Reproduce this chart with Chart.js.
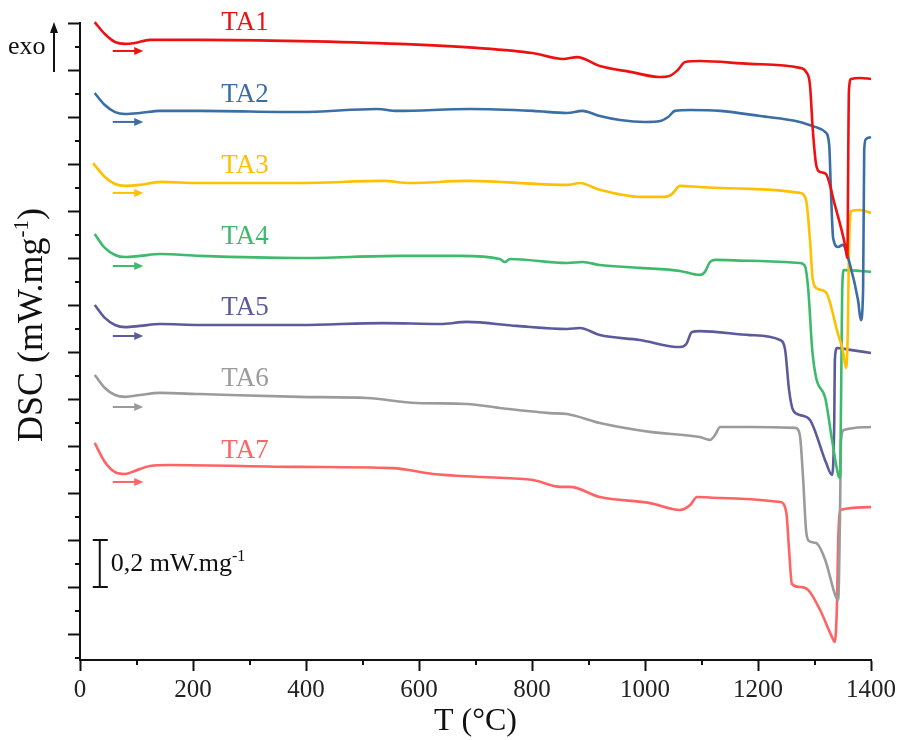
<!DOCTYPE html>
<html>
<head>
<meta charset="utf-8">
<script src="https://cdn.jsdelivr.net/npm/chart.js@4.4.0/dist/chart.umd.min.js"></script>
<style>
  html, body { margin: 0; padding: 0; background: #fff; }
  #wrap { width: 898px; height: 740px; }
</style>
</head>
<body>
<div id="wrap"><canvas id="dscChart" width="898" height="740"></canvas></div>
<script>
// DSC traces, temperature in °C, signal in mW/mg (offset curves, no absolute zero)
const seriesNames  = ['TA1', 'TA2', 'TA3', 'TA4', 'TA5', 'TA6', 'TA7'];
const seriesColors = ['#ee1111', '#3b6ea5', '#ffc000', '#3dba6c', '#5b5b9c', '#9b9b9b', '#ff6363'];

const ta1Temp = [26, 44, 62, 80, 97, 124, 212, 389, 566, 702, 801, 855, 880, 920, 974, 1027, 1044, 1058, 1071, 1097, 1186, 1274, 1285, 1292, 1297, 1303, 1310, 1320, 1336, 1354, 1358, 1361, 1365, 1381, 1400];
const ta1Dsc  = [2.604, 2.553, 2.519, 2.511, 2.515, 2.528, 2.528, 2.523, 2.511, 2.494, 2.472, 2.447, 2.455, 2.417, 2.392, 2.370, 2.375, 2.400, 2.434, 2.438, 2.426, 2.409, 2.392, 2.336, 2.145, 1.996, 1.966, 1.958, 1.826, 1.656, 1.600, 2.315, 2.362, 2.366, 2.362];

const ta2Temp = [26, 44, 62, 80, 106, 142, 212, 389, 526, 561, 690, 802, 862, 889, 920, 956, 1000, 1027, 1041, 1053, 1080, 1133, 1204, 1274, 1301, 1319, 1326, 1329, 1333, 1342, 1350, 1363, 1377, 1382, 1386, 1388, 1391, 1400];
const ta2Dsc  = [2.302, 2.251, 2.221, 2.213, 2.217, 2.226, 2.226, 2.221, 2.234, 2.226, 2.234, 2.226, 2.217, 2.226, 2.204, 2.187, 2.179, 2.183, 2.200, 2.226, 2.230, 2.226, 2.204, 2.179, 2.158, 2.136, 2.081, 1.890, 1.685, 1.647, 1.656, 1.570, 1.421, 1.336, 1.464, 2.060, 2.106, 2.115];

const ta3Temp = [23, 44, 62, 80, 106, 142, 212, 389, 536, 584, 685, 862, 885, 920, 991, 1035, 1048, 1062, 1097, 1186, 1274, 1285, 1292, 1297, 1306, 1320, 1342, 1350, 1356, 1359, 1361, 1365, 1381, 1400];
const ta3Dsc  = [2.004, 1.945, 1.915, 1.907, 1.911, 1.924, 1.919, 1.919, 1.928, 1.919, 1.928, 1.911, 1.919, 1.890, 1.860, 1.860, 1.873, 1.907, 1.902, 1.894, 1.877, 1.847, 1.677, 1.507, 1.468, 1.455, 1.273, 1.209, 1.132, 1.294, 1.634, 1.800, 1.804, 1.792];

const ta4Temp = [26, 44, 62, 80, 106, 142, 212, 389, 566, 673, 743, 752, 761, 862, 890, 920, 991, 1062, 1097, 1106, 1115, 1124, 1186, 1274, 1283, 1289, 1296, 1303, 1319, 1331, 1342, 1345, 1347, 1349, 1352, 1381, 1400];
const ta4Dsc  = [1.702, 1.643, 1.613, 1.604, 1.609, 1.617, 1.609, 1.600, 1.609, 1.609, 1.596, 1.583, 1.596, 1.579, 1.583, 1.570, 1.558, 1.545, 1.528, 1.541, 1.583, 1.592, 1.588, 1.579, 1.566, 1.464, 1.209, 1.089, 1.004, 0.826, 0.677, 0.664, 0.996, 1.464, 1.549, 1.545, 1.541];

const ta5Temp = [26, 44, 62, 80, 106, 142, 212, 389, 536, 637, 685, 773, 862, 885, 920, 991, 1062, 1073, 1083, 1097, 1186, 1239, 1248, 1255, 1262, 1274, 1292, 1320, 1331, 1335, 1336, 1340, 1363, 1400];
const ta5Dsc  = [1.400, 1.345, 1.315, 1.306, 1.311, 1.319, 1.315, 1.315, 1.323, 1.319, 1.328, 1.311, 1.298, 1.302, 1.272, 1.251, 1.221, 1.234, 1.285, 1.289, 1.272, 1.251, 1.209, 1.038, 0.953, 0.932, 0.911, 0.732, 0.677, 0.911, 1.166, 1.217, 1.209, 1.196];

const ta6Temp = [26, 44, 62, 80, 106, 142, 212, 389, 508, 596, 685, 743, 832, 862, 920, 1009, 1097, 1115, 1124, 1133, 1186, 1266, 1274, 1280, 1285, 1290, 1303, 1319, 1338, 1342, 1345, 1347, 1352, 1400];
const ta6Dsc  = [1.102, 1.047, 1.017, 1.009, 1.017, 1.026, 1.021, 1.009, 1.004, 0.983, 0.979, 0.962, 0.940, 0.936, 0.898, 0.860, 0.838, 0.826, 0.847, 0.881, 0.881, 0.877, 0.847, 0.655, 0.443, 0.396, 0.387, 0.315, 0.157, 0.145, 0.485, 0.826, 0.868, 0.881];

const ta7Temp = [26, 44, 62, 80, 97, 124, 159, 389, 554, 625, 713, 802, 850, 867, 920, 1009, 1062, 1080, 1092, 1133, 1239, 1250, 1255, 1260, 1274, 1289, 1310, 1331, 1336, 1340, 1342, 1345, 1400];
const ta7Dsc  = [0.813, 0.732, 0.689, 0.681, 0.694, 0.715, 0.719, 0.711, 0.706, 0.681, 0.668, 0.655, 0.626, 0.626, 0.583, 0.557, 0.528, 0.549, 0.583, 0.579, 0.562, 0.519, 0.357, 0.213, 0.200, 0.187, 0.102, -0.013, -0.034, 0.145, 0.400, 0.528, 0.540];

const xMajorTicks = [0, 200, 400, 600, 800, 1000, 1200, 1400];
const xMinorTicks = [100, 300, 500, 700, 900, 1100, 1300];
const yMajorTicks = [0, 0.2, 0.4, 0.6, 0.8, 1.0, 1.2, 1.4, 1.6, 1.8, 2.0, 2.2, 2.4, 2.6];
const yMinorTicks = [-0.1, 0.1, 0.3, 0.5, 0.7, 0.9, 1.1, 1.3, 1.5, 1.7, 1.9, 2.1, 2.3, 2.5];

// annotation anchors (data units)
const labelTemp = 292;
const labelDsc  = [2.600, 2.294, 1.991, 1.689, 1.387, 1.085, 0.779];
const arrowTemp = [58, 112];
const arrowDsc  = [2.481, 2.179, 1.877, 1.566, 1.268, 0.966, 0.647];
const scaleBarTemp = 35;
const scaleBarDsc  = [0.2, 0.4];

const temps = [ta1Temp, ta2Temp, ta3Temp, ta4Temp, ta5Temp, ta6Temp, ta7Temp];
const dscs  = [ta1Dsc, ta2Dsc, ta3Dsc, ta4Dsc, ta5Dsc, ta6Dsc, ta7Dsc];

const serif = '"Liberation Serif", "DejaVu Serif", serif';
const ink = '#111';

function arrowHead(ctx, x, y, dx, dy, len, half) {
    // tip at (x, y), pointing along (dx, dy)
    ctx.beginPath();
    ctx.moveTo(x, y);
    ctx.lineTo(x - dx * len - dy * half, y - dy * len + dx * half);
    ctx.lineTo(x - dx * len + dy * half, y - dy * len - dx * half);
    ctx.closePath();
    ctx.fill();
}

// draws base text followed by a superscript, returns total width (no drawing when measureOnly)
function supText(ctx, x, y, parts, measureOnly) {
    let cx = x;
    parts.forEach(p => {
        ctx.font = p.size + 'px ' + serif;
        if (!measureOnly) ctx.fillText(p.text, cx, y - (p.rise || 0));
        cx += ctx.measureText(p.text).width;
    });
    return cx - x;
}

const dscAnnotations = {
    id: 'dscAnnotations',
    afterDraw(chart) {
        const { ctx, chartArea, scales: { x, y } } = chart;
        ctx.save();

        // minor ticks
        ctx.strokeStyle = ink;
        ctx.lineWidth = 2;
        ctx.beginPath();
        xMinorTicks.forEach(v => {
            const px = Math.round(x.getPixelForValue(v));
            ctx.moveTo(px, chartArea.bottom);
            ctx.lineTo(px, chartArea.bottom + 5);
        });
        yMinorTicks.forEach(v => {
            const py = Math.round(y.getPixelForValue(v));
            ctx.moveTo(chartArea.left - 5, py);
            ctx.lineTo(chartArea.left, py);
        });
        ctx.stroke();

        // series labels and heating arrows
        ctx.textAlign = 'center';
        ctx.textBaseline = 'middle';
        ctx.font = '27px ' + serif;
        seriesNames.forEach((name, i) => {
            ctx.fillStyle = seriesColors[i];
            ctx.fillText(name, x.getPixelForValue(labelTemp), y.getPixelForValue(labelDsc[i]));

            const ay = y.getPixelForValue(arrowDsc[i]);
            const ax0 = x.getPixelForValue(arrowTemp[0]);
            const ax1 = x.getPixelForValue(arrowTemp[1]);
            ctx.strokeStyle = seriesColors[i];
            ctx.lineWidth = 2;
            ctx.beginPath();
            ctx.moveTo(ax0, ay);
            ctx.lineTo(ax1 - 6, ay);
            ctx.stroke();
            arrowHead(ctx, ax1, ay, 1, 0, 9, 4);
        });

        // exo arrow
        ctx.fillStyle = ink;
        ctx.strokeStyle = ink;
        ctx.textAlign = 'left';
        ctx.textBaseline = 'alphabetic';
        ctx.font = '26px ' + serif;
        ctx.fillText('exo', chartArea.left - 72, chartArea.top + 31);
        const ex = chartArea.left - 26;
        ctx.lineWidth = 2;
        ctx.beginPath();
        ctx.moveTo(ex, chartArea.top + 49);
        ctx.lineTo(ex, chartArea.top + 6);
        ctx.stroke();
        arrowHead(ctx, ex, chartArea.top - 1, 0, -1, 11, 4);

        // scale bar 0,2 mW/mg
        const sx = x.getPixelForValue(scaleBarTemp);
        const sy0 = y.getPixelForValue(scaleBarDsc[0]);
        const sy1 = y.getPixelForValue(scaleBarDsc[1]);
        ctx.lineWidth = 2;
        ctx.beginPath();
        ctx.moveTo(sx, sy0); ctx.lineTo(sx, sy1);
        ctx.moveTo(sx - 7, sy0); ctx.lineTo(sx + 8, sy0);
        ctx.moveTo(sx - 7, sy1); ctx.lineTo(sx + 8, sy1);
        ctx.stroke();
        supText(ctx, sx + 11, (sy0 + sy1) / 2 + 7, [
            { text: '0,2 mW.mg', size: 26 },
            { text: '-1', size: 16, rise: 10 }
        ]);

        // y axis title with superscript
        const yParts = [
            { text: 'DSC (mW.mg', size: 36 },
            { text: '-1', size: 21, rise: 14 },
            { text: ')', size: 36 }
        ];
        ctx.translate(42, chartArea.top + 302);
        ctx.rotate(-Math.PI / 2);
        const w = supText(ctx, 0, 0, yParts, true);
        supText(ctx, -w / 2, 0, yParts);

        ctx.restore();
    }
};

new Chart(document.getElementById('dscChart').getContext('2d'), {
    type: 'line',
    data: {
        datasets: seriesNames.map((name, i) => ({
            label: name,
            data: temps[i].map((t, k) => ({ x: t, y: dscs[i][k] })),
            borderColor: seriesColors[i],
            backgroundColor: seriesColors[i],
            borderWidth: 2.6,
            pointRadius: 0,
            fill: false,
            cubicInterpolationMode: 'monotone',
            clip: false,
        })),
    },
    options: {
        responsive: false,
        animation: false,
        layout: { padding: { top: 23, right: 27, left: 0, bottom: 0 } },
        plugins: { legend: { display: false }, tooltip: { enabled: false } },
        scales: {
            x: {
                type: 'linear',
                min: 0,
                max: 1400,
                afterBuildTicks: s => { s.ticks = xMajorTicks.map(v => ({ value: v })); },
                afterFit: s => { s.height = 80; s.paddingRight = 0; s.paddingLeft = 0; },
                border: { display: true, color: ink, width: 2 },
                grid: { drawOnChartArea: false, drawTicks: true, tickLength: 11, tickWidth: 2, tickColor: ink },
                ticks: {
                    color: '#222',
                    font: { family: serif, size: 25 },
                    padding: 4,
                    maxRotation: 0,
                    autoSkip: false,
                    callback: v => String(v),
                },
                title: { display: true, text: 'T (°C)', color: ink, font: { family: serif, size: 32, lineHeight: 1 }, padding: { top: 0, bottom: 2 } },
            },
            y: {
                type: 'linear',
                min: -0.1106,
                max: 2.6,
                afterBuildTicks: s => { s.ticks = yMajorTicks.map(v => ({ value: v })); },
                afterFit: s => { s.width = 80; },
                border: { display: true, color: ink, width: 2 },
                grid: { drawOnChartArea: false, drawTicks: true, tickLength: 12, tickWidth: 2, tickColor: ink },
                ticks: { display: false },
            },
        },
    },
    plugins: [dscAnnotations],
});
</script>
</body>
</html>
